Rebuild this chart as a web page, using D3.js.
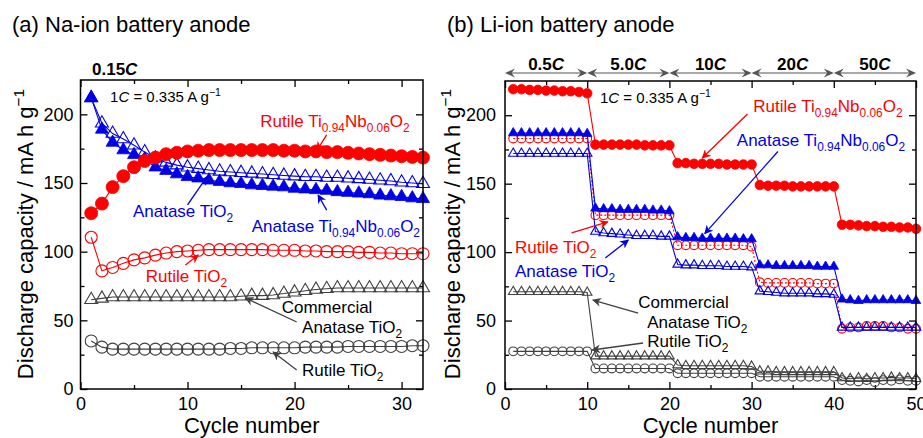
<!DOCTYPE html>
<html>
<head>
<meta charset="utf-8">
<script src="https://cdn.jsdelivr.net/npm/d3@7"></script>
<style>
  body { margin: 0; background: #fff; }
  svg text { font-family: "Liberation Sans", Arial, Helvetica, sans-serif; }
</style>
</head>
<body>
<svg id="chart" width="923" height="438"></svg>
<script>
// ---------------- data ----------------
// (a) Na-ion, 0.15C, cycles 1..32
const naCycles = d3.range(1, 33)
const naRutileNb = [128, 135, 147, 155, 161.5, 166, 168.5, 171, 172, 173, 173.5, 174, 174, 174, 174, 174, 174, 174, 173.5, 173.5, 173, 173, 172.5, 172.5, 172, 171.5, 171, 170.5, 170, 169.5, 169, 168.5]
const naAnatase = [212, 193.5, 186, 182, 177.5, 172.5, 168, 165, 163, 161.5, 160.5, 159.5, 158.5, 158, 157.5, 157, 156.5, 156, 155.5, 155, 154.5, 154.5, 154, 154, 153.5, 153, 152.5, 152, 151.5, 150.5, 150, 149.5]
const naAnataseNb = [212, 189, 179.5, 174, 170.5, 167.5, 161.5, 159, 156.5, 154.5, 153.5, 152, 151, 150, 149.5, 148.5, 148, 147.5, 147, 146, 145.5, 145, 144.5, 143.5, 143, 142.5, 142, 141, 140.5, 140, 139, 138.5]
const naRutile = [110.5, 86, 88.5, 91.5, 94, 95.5, 97.5, 99, 100, 100.5, 101, 101.5, 101.5, 101.5, 101.5, 101.5, 101.5, 101, 101, 101, 100.5, 100.5, 100, 100, 100, 99.5, 99.5, 99, 99, 98.5, 98.5, 98.5]
const naCommercial = [65, 66, 67, 67, 67, 67, 67, 67, 67, 67, 67, 67, 67, 67, 67.5, 68, 68, 68.5, 69.5, 70.5, 71.5, 72.5, 73, 73.5, 73.5, 73.5, 73.5, 73.5, 73.5, 73.5, 73.5, 73.5]
const naRutileRef = [35, 30.5, 29, 29, 29, 29, 29, 29, 29, 29, 29, 29, 29, 29.5, 29.5, 30, 30, 30, 30, 30, 30.5, 30.5, 30.5, 30.5, 31, 31, 31, 31, 31, 31, 31.5, 31.5]

// (b) Li-ion, rate test, cycles 1..50
const liCycles = d3.range(1, 51)
const liRutileNb = [219, 219, 218.5, 218.5, 218, 218, 217.5, 217.5, 217, 216,
  178.5, 178.5, 178.5, 178.5, 178.5, 178.5, 178, 178, 178, 178,
  165, 165, 164.5, 164.5, 164.5, 164.5, 164, 164, 164, 164,
  149, 148.5, 148.5, 148.5, 148, 148, 148, 148, 148, 148,
  120, 120, 119.5, 119, 119, 118.5, 118.5, 118, 118, 117]
const liAnataseNb = [187, 187, 187, 187, 187, 187, 187, 187, 187, 186.5,
  132, 131.5, 131.5, 131, 131, 131, 131, 130.5, 130.5, 130,
  111, 110.5, 110.5, 110, 110, 110, 110, 110, 109.5, 109.5,
  90.5, 90.5, 90, 90, 90, 90, 90, 89.5, 89.5, 89.5,
  65.5, 65, 64.5, 65, 65, 65, 65, 65, 65, 64.5]
const liRutile = [183, 183, 183, 183, 183, 183, 183, 183, 183, 183,
  127, 127, 127, 127, 127, 127, 127, 127, 127, 127,
  105, 105, 105, 105, 105, 105, 105, 105, 105, 104,
  78, 77.5, 77.5, 77.5, 77.5, 77.5, 77.5, 77, 77, 77,
  44, 45, 45, 46, 46, 46, 45, 45, 44, 44]
const liAnatase = [172, 172, 172, 172, 172, 172, 172, 172, 172, 172,
  115, 114, 113.5, 113, 112.5, 112, 112, 112, 111.5, 111.5,
  91, 90.5, 90.5, 90, 90, 90, 89.5, 89.5, 89.5, 89,
  71.5, 71, 70.5, 70, 70, 70, 70, 69.5, 69.5, 69,
  45, 45, 45, 45, 45, 45, 45, 45, 45, 45]
const liCommercial = [71, 71, 71, 71, 71, 71, 71, 71, 71, 70.5,
  24, 24, 24, 24, 24, 24, 24, 24, 24, 24,
  17.5, 17, 17, 17, 17, 17, 17, 17, 17, 16.5,
  13, 13, 12.5, 12.5, 12.5, 12.5, 12.5, 12.5, 12.5, 12.5,
  8, 7.5, 8, 7.5, 8, 8, 8.5, 8, 8, 7.5]
const liRutileRef = [27.5, 27.5, 27.5, 27.5, 27.5, 27.5, 27.5, 27.5, 27.5, 27.5,
  15, 15, 15, 15, 15, 15, 15, 15, 15, 15,
  11.5, 11.5, 11.5, 11.5, 11.5, 11.5, 11.5, 11.5, 11.5, 11.5,
  9, 9, 9, 9, 9, 9, 9, 9, 9, 9,
  6.5, 6, 5.5, 6.5, 5, 6.5, 6, 7, 6, 6]

const rateEdges = [0, 10, 20, 30, 40, 50]
const rateLabels = ['0.5', '5.0', '10', '20', '50']

const yTicks = [0, 50, 100, 150, 200]
const yMinor = [25, 75, 125, 175]
const yMax = 225

// ---------------- drawing ----------------
const RED = '#ff0000', BLUE = '#0000e6', GREY = '#404040'
const svg = d3.select('#chart')

const defs = svg.append('defs')
;[['red', RED], ['blue', BLUE], ['grey', GREY]].forEach(([id, c]) => {
  defs.append('marker')
    .attr('id', 'ah-' + id)
    .attr('viewBox', '0 0 10 10')
    .attr('refX', 9).attr('refY', 5)
    .attr('markerWidth', 9).attr('markerHeight', 9)
    .attr('markerUnits', 'userSpaceOnUse')
    .attr('orient', 'auto')
    .append('path').attr('d', 'M0,0 L10,5 L0,10 L3,5 Z').attr('fill', c)
})

// text with sub/superscripts and italics
function rich(sel, parts, fs) {
  let cur = 0
  parts.forEach(p => {
    const [t, k] = Array.isArray(p) ? p : [p, '']
    const off = k === 'sub' ? fs * 0.3 : k === 'sup' ? -fs * 0.42 : 0
    const ts = sel.append('tspan').text(t).attr('dy', off - cur)
    cur = off
    if (k === 'sub' || k === 'sup') ts.attr('font-size', fs * 0.7)
    if (k === 'i' || k === 'bi') ts.attr('font-style', 'italic')
  })
  return sel
}

const nbFormula = ['Ti', ['0.94', 'sub'], 'Nb', ['0.06', 'sub'], 'O', ['2', 'sub']]
const tio2 = ['TiO', ['2', 'sub']]
const rateNote = ['1', ['C', 'i'], ' = 0.335 A g', ['\u22121', 'sup']]

function panel(cfg) {
  const g = svg.append('g')
  const x = d3.scaleLinear().domain(cfg.xDomain).range([cfg.left, cfg.right])
  const y = d3.scaleLinear().domain([0, yMax]).range([cfg.bottom, cfg.top])

  const styleAxis = sel => {
    sel.select('.domain').remove()
    sel.selectAll('line').attr('stroke', '#000').attr('stroke-width', 1.3)
    sel.selectAll('text').attr('font-size', 18).attr('fill', '#000')
      .attr('font-family', '"Liberation Sans", Arial, sans-serif')
  }
  const B = cfg.bottom, T = cfg.top
  g.append('g').attr('transform', `translate(0,${B})`)
    .call(d3.axisBottom(x).tickValues(cfg.xMajor).tickSize(-7).tickPadding(8).tickFormat(d3.format('d'))).call(styleAxis)
  g.append('g').attr('transform', `translate(0,${B})`)
    .call(d3.axisBottom(x).tickValues(cfg.xMinor).tickSize(-4).tickFormat('')).call(styleAxis)
  g.append('g').attr('transform', `translate(0,${T})`)
    .call(d3.axisTop(x).tickValues(cfg.xMajor).tickSize(-7).tickFormat('')).call(styleAxis)
  g.append('g').attr('transform', `translate(0,${T})`)
    .call(d3.axisTop(x).tickValues(cfg.xMinor).tickSize(-4).tickFormat('')).call(styleAxis)
  g.append('g').attr('transform', `translate(${cfg.left},0)`)
    .call(d3.axisLeft(y).tickValues(yTicks).tickSize(-7).tickPadding(cfg.yPad)).call(styleAxis)
  g.append('g').attr('transform', `translate(${cfg.left},0)`)
    .call(d3.axisLeft(y).tickValues(yMinor).tickSize(-4).tickFormat('')).call(styleAxis)
  g.append('g').attr('transform', `translate(${cfg.right},0)`)
    .call(d3.axisRight(y).tickValues(yTicks).tickSize(-7).tickFormat('')).call(styleAxis)
  g.append('g').attr('transform', `translate(${cfg.right},0)`)
    .call(d3.axisRight(y).tickValues(yMinor).tickSize(-4).tickFormat('')).call(styleAxis)

  // axis titles
  g.append('text').attr('x', (cfg.left + cfg.right) / 2).attr('y', 433)
    .attr('text-anchor', 'middle').attr('font-size', 22).text('Cycle number')
  const yl = g.append('text')
    .attr('transform', `translate(${cfg.yLabelX},234) rotate(-90)`)
    .attr('text-anchor', 'middle').attr('font-size', 22)
  rich(yl, ['Discharge capacity / mA h g', ['\u22121', 'sup']], 22)

  // panel title
  g.append('text').attr('x', cfg.titleX).attr('y', 32).attr('font-size', 22).text(cfg.title)

  // series
  const plot = g.append('g')
  cfg.series.forEach(s => {
    const pts = cfg.cycles.map((c, i) => [c, s.values[i]])
    plot.append('path').datum(pts)
      .attr('fill', 'none').attr('stroke', s.line || s.color).attr('stroke-width', 1.1)
      .attr('stroke-dasharray', s.dash || null)
      .attr('d', d3.line().x(d => x(d[0])).y(d => y(d[1])))
    const m = plot.append('g')
    if (s.shape === 'circle') {
      m.selectAll('circle').data(pts).join('circle')
        .attr('cx', d => x(d[0])).attr('cy', d => y(d[1]))
        .attr('r', s.filled ? cfg.rFill : cfg.rOpen)
        .attr('fill', s.filled ? s.color : 'none')
        .attr('stroke', s.color).attr('stroke-width', s.filled ? 0.8 : 1.1)
    } else {
      const side = cfg.tri
      const sym = d3.symbol(d3.symbolTriangle, Math.sqrt(3) / 4 * side * side)
      m.selectAll('path').data(pts).join('path')
        .attr('transform', d => `translate(${x(d[0])},${y(d[1])})`)
        .attr('d', sym)
        .attr('fill', s.filled ? s.color : 'none')
        .attr('stroke', s.color).attr('stroke-width', s.filled ? 0.8 : 1.1)
    }
  })

  // frame
  g.append('rect').attr('x', cfg.left).attr('y', cfg.top)
    .attr('width', cfg.right - cfg.left).attr('height', cfg.bottom - cfg.top)
    .attr('fill', 'none').attr('stroke', '#000').attr('stroke-width', 1.5)

  // annotations (positions in data units)
  const ann = g.append('g')
  cfg.notes.forEach(n => {
    const t = ann.append('text').attr('x', x(n.at[0])).attr('y', y(n.at[1]))
      .attr('font-size', n.fs || 17).attr('fill', n.color || '#000')
    rich(t, n.parts, n.fs || 17)
  })
  cfg.arrows.forEach(a => {
    ann.append('line')
      .attr('x1', x(a.from[0])).attr('y1', y(a.from[1]))
      .attr('x2', x(a.to[0])).attr('y2', y(a.to[1]))
      .attr('stroke', a.color).attr('stroke-width', 1.3)
      .attr('marker-end', `url(#ah-${a.id})`)
  })
  return { g, x, y }
}

// ---- (a) Na-ion ----
const left = panel({
  title: '(a) Na-ion battery anode', titleX: 12,
  left: 80.5, right: 423, top: 80, bottom: 389,
  xDomain: [0, 32], xMajor: [0, 10, 20, 30], xMinor: [5, 15, 25],
  yPad: 7, yLabelX: 33,
  cycles: naCycles, rFill: 6.5, rOpen: 6, tri: 13,
  series: [
    { values: naRutileRef, shape: 'circle', filled: false, color: GREY },
    { values: naCommercial, shape: 'tri', filled: false, color: GREY },
    { values: naRutile, shape: 'circle', filled: false, color: RED },
    { values: naAnatase, shape: 'tri', filled: false, color: BLUE },
    { values: naAnataseNb, shape: 'tri', filled: true, color: BLUE },
    { values: naRutileNb, shape: 'circle', filled: true, color: RED }
  ],
  notes: [
    { at: [2.76, 209], parts: rateNote, fs: 15 },
    { at: [16.8, 190.8], parts: ['Rutile ', ...nbFormula], color: RED },
    { at: [4.9, 125], parts: ['Anatase ', ...tio2], color: BLUE },
    { at: [16.0, 114.3], parts: ['Anatase ', ...nbFormula], color: BLUE },
    { at: [6.1, 78], parts: ['Rutile ', ...tio2], color: RED },
    { at: [18.8, 55.3], parts: ['Commercial'] },
    { at: [20.7, 40.8], parts: ['Anatase ', ...tio2] },
    { at: [20.7, 9.5], parts: ['Rutile ', ...tio2] }
  ],
  arrows: [
    { from: [23.0, 185], to: [22.1, 174], color: RED, id: 'red' },
    { from: [10.0, 134], to: [11.8, 154.5], color: BLUE, id: 'blue' },
    { from: [23.0, 130.3], to: [22.2, 141.3], color: BLUE, id: 'blue' },
    { from: [9.8, 90.3], to: [11.0, 97.6], color: RED, id: 'red' },
    { from: [20.2, 48.8], to: [15.4, 66.3], color: GREY, id: 'grey' },
    { from: [20.2, 13.8], to: [18.0, 26.9], color: GREY, id: 'grey' }
  ]
})
left.g.append('text').attr('x', 92).attr('y', 75).attr('font-size', 17).attr('font-weight', 'bold')
  .call(t => rich(t, ['0.15', ['C', 'i']], 17))

// ---- (b) Li-ion ----
const right = panel({
  title: '(b) Li-ion battery anode', titleX: 447,
  left: 505, right: 916, top: 81, bottom: 389,
  xDomain: [0, 50], xMajor: [0, 10, 20, 30, 40, 50], xMinor: [5, 15, 25, 35, 45],
  yPad: 9, yLabelX: 460,
  cycles: liCycles, rFill: 4.8, rOpen: 4.4, tri: 9.5,
  series: [
    { values: liRutileRef, shape: 'circle', filled: false, color: GREY },
    { values: liCommercial, shape: 'tri', filled: false, color: GREY },
    { values: liRutile, shape: 'circle', filled: false, color: RED, dash: '2,2' },
    { values: liAnatase, shape: 'tri', filled: false, color: BLUE },
    { values: liAnataseNb, shape: 'tri', filled: true, color: BLUE },
    { values: liRutileNb, shape: 'circle', filled: true, color: RED }
  ],
  notes: [
    { at: [11.56, 209], parts: rateNote, fs: 15 },
    { at: [30.2, 202.4], parts: ['Rutile ', ...nbFormula], color: RED },
    { at: [28.2, 177.5], parts: ['Anatase ', ...nbFormula], color: BLUE },
    { at: [1.22, 99.4], parts: ['Rutile ', ...tio2], color: RED },
    { at: [1.22, 81.8], parts: ['Anatase ', ...tio2], color: BLUE },
    { at: [16.2, 59.2], parts: ['Commercial'] },
    { at: [17.3, 44.5], parts: ['Anatase ', ...tio2] },
    { at: [17.3, 31], parts: ['Rutile ', ...tio2] }
  ],
  arrows: [
    { from: [29.5, 200.9], to: [24.0, 168.7], color: RED, id: 'red' },
    { from: [33.2, 173.5], to: [24.3, 113.5], color: BLUE, id: 'blue' },
    { from: [8.1, 114], to: [12.5, 122], color: RED, id: 'red' },
    { from: [12.2, 95.7], to: [15.0, 108.8], color: BLUE, id: 'blue' },
    { from: [16.2, 55.5], to: [10.7, 65], color: GREY, id: 'grey' },
    { from: [16.8, 33.6], to: [10.6, 28.5], color: GREY, id: 'grey' }
  ]
})

// rate bar above (b)
const bar = right.g.append('g')
const barY = 73
rateLabels.forEach((lab, i) => {
  const x0 = right.x(rateEdges[i]), x1 = right.x(rateEdges[i + 1])
  bar.append('line').attr('x1', x0 + 2).attr('x2', x1 - 2).attr('y1', barY).attr('y2', barY)
    .attr('stroke', '#555').attr('stroke-width', 1.1)
  bar.append('path')
    .attr('d', `M${x0},${barY} L${x0 + 10},${barY - 4.5} L${x0 + 6.5},${barY} L${x0 + 10},${barY + 4.5} Z` +
      `M${x1},${barY} L${x1 - 10},${barY - 4.5} L${x1 - 6.5},${barY} L${x1 - 10},${barY + 4.5} Z`)
    .attr('fill', '#555')
  bar.append('text').attr('x', (x0 + x1) / 2).attr('y', 70).attr('text-anchor', 'middle')
    .attr('font-size', 17).attr('font-weight', 'bold')
    .call(t => rich(t, [lab, ['C', 'i']], 17))
})
</script>
</body>
</html>
